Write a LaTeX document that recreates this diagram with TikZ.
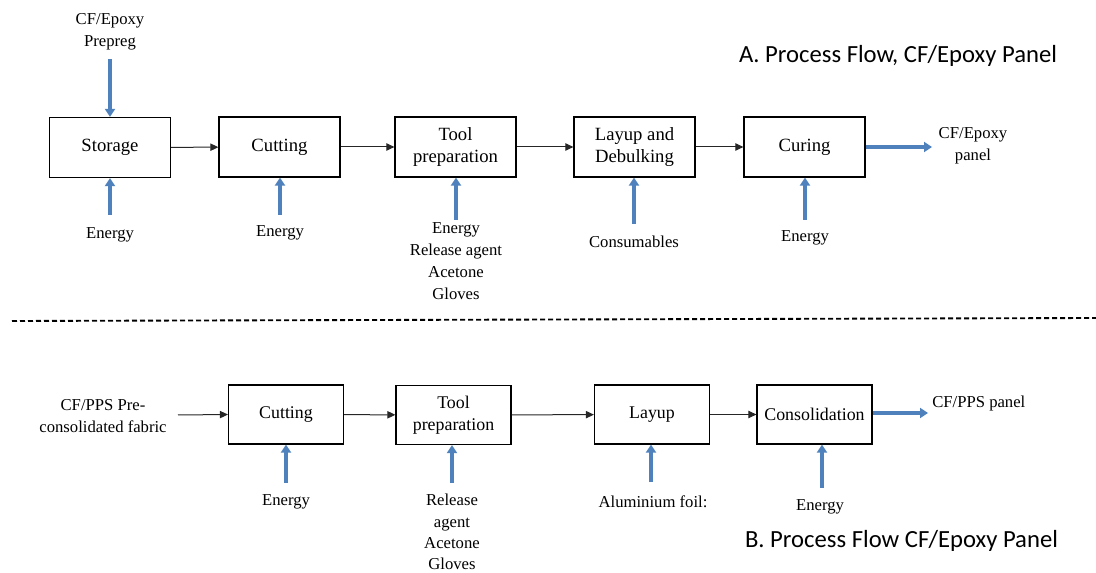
\documentclass[tikz,border=0pt]{standalone}
\usepackage{fontspec}
\setmainfont{Liberation Serif}
\newfontfamily\titlefont{Carlito}
\usetikzlibrary{arrows.meta}
\definecolor{flowblue}{HTML}{4F81BD}
\tikzset{
  topbox/.style={draw=black, line width=0.9pt, minimum width=90.75pt, minimum height=45pt, inner sep=1pt, align=center, font=\fontsize{14}{16.5}\selectfont},
  botbox/.style={draw=black, line width=0.9pt, minimum width=86.25pt, minimum height=44.25pt, inner sep=1pt, align=center, font=\fontsize{13.4}{16.5}\selectfont},
  lab/.style={align=center, inner sep=0pt, font=\fontsize{12.5}{16.5}\selectfont},
  lab2/.style={align=center, inner sep=0pt, font=\fontsize{12.5}{16}\selectfont},
  flow/.style={draw=black!85, line width=0.75pt, -{Triangle[length=6pt,width=5.5pt]}},
  feed/.style={draw=flowblue, line width=2.6pt, -{Triangle[length=6pt,width=7.5pt]}},
  titletext/.style={inner sep=0pt, anchor=base, font=\titlefont\fontsize{18.5}{22}\selectfont}
}
\begin{document}
\begin{tikzpicture}[x=0.75pt,y=-0.75pt]
\useasboundingbox (0,0) rectangle (1096,573);
% ---------- A ----------
\node[topbox] (st) at (110,147.5) {Storage};
\node[topbox] (cu) at (279.5,147) {Cutting};
\node[topbox] (tp) at (455.5,147) {Tool\\preparation};
\node[topbox] (ld) at (634.5,147) {Layup and\\Debulking};
\node[topbox] (cr) at (804.5,147) {Curing};
\draw[flow] (st) -- (cu);
\draw[flow] (cu) -- (tp);
\draw[flow] (tp) -- (ld);
\draw[flow] (ld) -- (cr);

\node[lab] (pre) at (110,32) {CF/Epoxy\\Prepreg};
\coordinate (preT) at (110,59);
\draw[feed] (preT) -- (st.north);

\node[lab] (e1) at (110,235) {Energy};
\coordinate (e1T) at (110,215);
\draw[feed] (e1T) -- (st.south);

\node[lab] (e2) at (280,233) {Energy};
\coordinate (e2T) at (280,215);
\draw[feed] (e2T) -- (cu.south -| e2T);

\node[lab] (e3) at (456,261.5) {Energy\\Release agent\\Acetone\\Gloves};
\coordinate (e3T) at (456,220);
\draw[feed] (e3T) -- (tp.south -| e3T);

\node[lab] (cs) at (634,242) {Consumables};
\coordinate (csT) at (634,224);
\draw[feed] (csT) -- (ld.south -| csT);

\node[lab] (e4) at (805,238) {Energy};
\coordinate (e4T) at (805,220);
\draw[feed] (e4T) -- (cr.south -| e4T);

\coordinate (outA) at (932,147);
\draw[feed] (cr.east) -- (outA);
\node[lab] (pa) at (973,146) {CF/Epoxy\\panel};

\node[titletext] (tA) at (898,63) {A. Process Flow, CF/Epoxy Panel};

% ---------- divider ----------
\coordinate (d1) at (12,321);
\coordinate (d2) at (1096,318);
\draw[line width=1.4pt, dash pattern=on 3.75pt off 2.25pt] (d1) -- (d2);

% ---------- B ----------
\node[botbox] (bcu) at (286,414.5) {Cutting};
\node[botbox] (btp) at (453.5,415) {Tool\\preparation};
\node[botbox] (bly) at (652,414.5) {Layup};
\node[botbox] (bco) at (814.5,414.5) {Consolidation};
\draw[flow] (bcu) -- (btp);
\draw[flow] (btp) -- (bly);
\draw[flow] (bly) -- (bco);

\node[lab] (fab) at (103,416) {CF/PPS Pre-\\consolidated fabric};
\coordinate (fabR) at (178,415);
\draw[flow] (fabR) -- (bcu.west);

\node[lab] (be1) at (286,502) {Energy};
\coordinate (be1T) at (286,483);
\draw[feed] (be1T) -- (bcu.south);

\node[lab2] (bre) at (452,532) {Release\\agent\\Acetone\\Gloves};
\coordinate (breT) at (452,483);
\draw[feed] (breT) -- (btp.south -| breT);

\node[lab] (al) at (653,502) {Aluminium foil:};
\coordinate (alT) at (651,482);
\draw[feed] (alT) -- (bly.south -| alT);

\node[lab] (be2) at (820,507) {Energy};
\coordinate (be2T) at (822,488);
\draw[feed] (be2T) -- (bco.south -| be2T);

\coordinate (outB) at (928,413);
\draw[feed] (bco.east |- outB) -- (outB);
\node[lab, anchor=west] (pb) at (932,403) {CF/PPS panel};

\node[titletext] (tB) at (901.5,547) {B. Process Flow CF/Epoxy Panel};
\end{tikzpicture}
\end{document}
